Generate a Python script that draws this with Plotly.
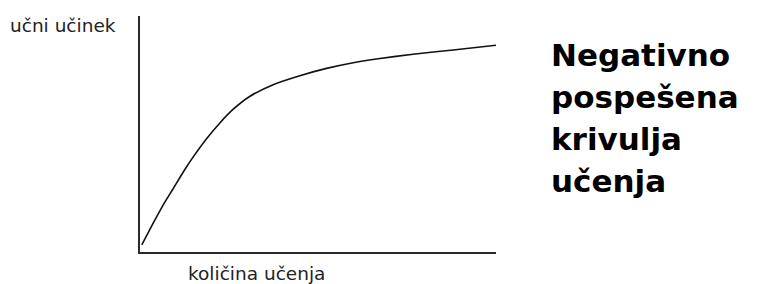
import plotly.graph_objects as go

# Learning effect (arbitrary units, 0-100) versus amount of learning (0-100)
kolicina = [0.5, 3.7, 6.5, 9.4, 12.2, 15.0, 18.7, 22.5, 26.2, 30.9, 37.4, 44.9,
            52.4, 59.9, 66.9, 76.7, 88.0, 100.0]
ucinek = [3.0, 12.2, 19.9, 27.0, 34.0, 40.4, 48.0, 54.8, 60.5, 66.0, 70.9, 74.7,
          77.8, 80.2, 81.9, 83.8, 85.6, 87.6]

y_label = "učni učinek"
x_label = "količina učenja"
title_lines = ["Negativno", "pospešena", "krivulja", "učenja"]

W, H = 760, 284
L, R, T, B = 140, 264, 16, 32

fig = go.Figure()
fig.add_trace(go.Scatter(
    x=kolicina, y=ucinek, mode="lines",
    line=dict(color="#111111", width=1.6, shape="spline", smoothing=0.6),
    hoverinfo="skip", showlegend=False, cliponaxis=False,
))

axis_common = dict(showgrid=False, zeroline=False, showticklabels=False,
                   ticks="", showline=True, linecolor="#2a2a2a", linewidth=2,
                   fixedrange=True)
fig.update_xaxes(range=[0, 100], **axis_common)
fig.update_yaxes(range=[0, 100], **axis_common)

pw, ph = W - L - R, H - T - B

def px2paper(px, py):
    return (px - L) / pw, (H - B - py) / ph

annots = []
x0, y0 = px2paper(10, 36)
annots.append(dict(text=y_label, x=x0, y=y0, xref="paper", yref="paper",
                   xanchor="left", yanchor="bottom", showarrow=False,
                   font=dict(family="DejaVu Sans", size=18.5, color="#222222")))
x0, y0 = px2paper(188, 284)
annots.append(dict(text=x_label, x=x0, y=y0, xref="paper", yref="paper",
                   xanchor="left", yanchor="bottom", showarrow=False,
                   font=dict(family="DejaVu Sans", size=18.5, color="#222222")))
for i, line in enumerate(title_lines):
    baseline = 65 + 42 * i
    x0, y0 = px2paper(551, baseline + 8)
    annots.append(dict(text="<b>" + line + "</b>", x=x0, y=y0, xref="paper", yref="paper",
                       xanchor="left", yanchor="bottom", showarrow=False,
                       font=dict(family="DejaVu Sans", size=31, color="#000000")))
for a in annots:
    a["borderpad"] = 0
    a["borderwidth"] = 0

fig.update_layout(
    width=W, height=H,
    margin=dict(l=L, r=R, t=T, b=B, pad=0),
    paper_bgcolor="white", plot_bgcolor="white",
    annotations=annots,
    font=dict(family="DejaVu Sans"),
)

fig.write_html("out.html", config={"displayModeBar": False},
               post_script="document.body.style.margin='0';document.body.style.overflow='hidden';")
